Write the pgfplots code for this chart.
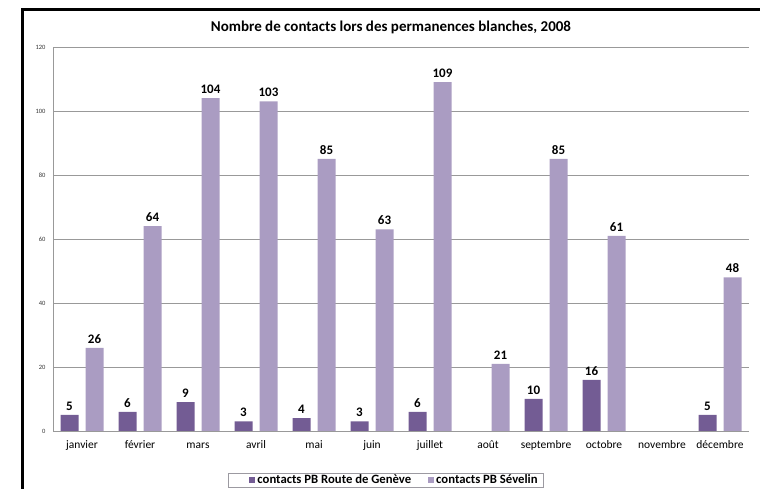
\documentclass[border=0pt]{standalone}
\usepackage{pgfplots}
\pgfplotsset{compat=1.18}
\usepackage{fontspec}
\setmainfont{Carlito}

\definecolor{darkpurple}{HTML}{735C94}
\definecolor{lightpurple}{HTML}{AA9CC2}
\definecolor{gridgray}{HTML}{999999}

\begin{document}
\begin{tikzpicture}
\useasboundingbox (0pt,0pt) rectangle (760pt,489pt);
% frame of the chart area (cut at right and bottom)
\draw[line width=3pt,black] (22pt,0pt) -- (22pt,479.5pt) -- (760pt,479.5pt);
\node[font=\bfseries\fontsize{15}{17}\selectfont] at (391pt,462pt) {Nombre de contacts lors des permanences blanches, 2008};

\begin{axis}[
    at={(53pt,58pt)}, anchor=south west,
    scale only axis,
    width=696pt, height=384pt,
    ybar=7pt, bar width=18pt,
    xmin=-0.5, xmax=11.5,
    ymin=0, ymax=120,
    ytick={0,20,...,120},
    xtick={0,...,11},
    xticklabels={janvier,février,mars,avril,mai,juin,juillet,août,septembre,octobre,novembre,décembre},
    major tick length=0pt,
    axis x line*=bottom, axis y line*=left,
    axis line style={-,gridgray},
    ymajorgrids, grid style={gridgray, line width=0.6pt},
    ticklabel style={/pgf/number format/assume math mode=true},
    yticklabel style={font=\fontsize{6.5}{8}\selectfont, color=black!80, xshift=-4pt},
    xticklabel style={font=\fontsize{11.5}{13}\selectfont, anchor=base, yshift=-18pt},
    nodes near coords,
    every node near coord/.append style={font=\bfseries\fontsize{13}{15}\selectfont, black, /pgf/number format/assume math mode=true, yshift=1pt},
    legend columns=2,
    legend style={at={(0.4785,-0.128)}, anchor=center, draw=gridgray!80!lightpurple,
        font=\bfseries\fontsize{12.7}{14}\selectfont,
        /tikz/every even column/.append style={column sep=-2pt},
        inner xsep=4pt, inner ysep=0pt},
    legend image code/.code={\path (-17pt,0pt); \fill[#1] (0pt,-3pt) rectangle (6pt,3pt);},
]
\addplot[fill=darkpurple, draw=none] coordinates {
    (0,5) (1,6) (2,9) (3,3) (4,4) (5,3) (6,6) (8,10) (9,16) (11,5)};
\addplot[fill=lightpurple, draw=none] coordinates {
    (0,26) (1,64) (2,104) (3,103) (4,85) (5,63) (6,109) (7,21) (8,85) (9,61) (11,48)};
\legend{contacts PB Route de Genève, contacts PB Sévelin}
\end{axis}
\end{tikzpicture}
\end{document}
